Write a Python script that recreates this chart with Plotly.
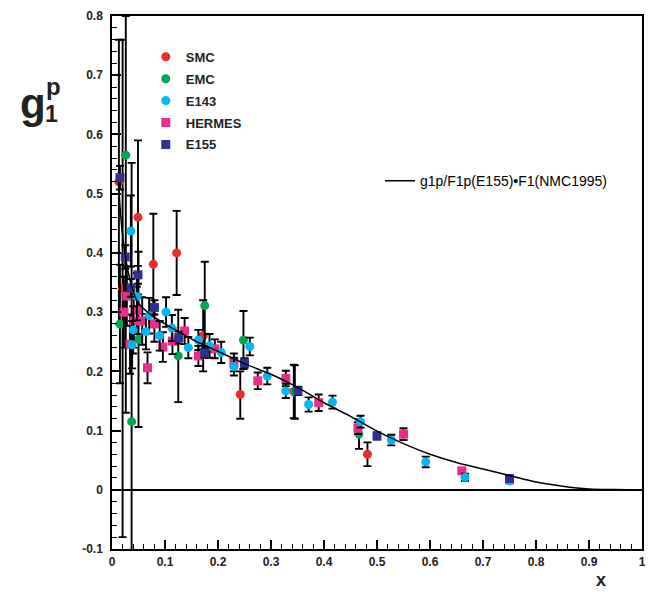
import plotly.graph_objects as go

# ---- g1 of the proton: world data ----
smc_x = [0.013, 0.020, 0.049, 0.078, 0.122, 0.172, 0.242, 0.343, 0.482]
smc_y = [0.520, 0.340, 0.460, 0.381, 0.400, 0.260, 0.161, 0.166, 0.060]
smc_up = [0.240, 0.420, 0.130, 0.085, 0.071, 0.060, 0.039, 0.045, 0.020]
smc_dn = [0.240, 0.420, 0.130, 0.085, 0.071, 0.060, 0.041, 0.045, 0.020]

emc_x = [0.015, 0.026, 0.037, 0.050, 0.125, 0.175, 0.248, 0.345, 0.466]
emc_y = [0.280, 0.565, 0.115, 0.254, 0.226, 0.311, 0.253, 0.165, 0.094]
emc_up = [0.100, 0.235, 0.437, 0.148, 0.078, 0.074, 0.049, 0.045, 0.025]
emc_dn = [0.100, 0.435, 0.437, 0.148, 0.078, 0.074, 0.049, 0.045, 0.025]

e143_x = [0.0356, 0.038, 0.040, 0.047, 0.064, 0.070, 0.090, 0.102, 0.113,
          0.144, 0.163, 0.184, 0.206, 0.230, 0.260, 0.293, 0.328, 0.371,
          0.416, 0.469, 0.527, 0.592, 0.666, 0.750]
e143_y = [0.437, 0.245, 0.270, 0.326, 0.267, 0.294, 0.260, 0.300, 0.273,
          0.240, 0.253, 0.243, 0.232, 0.208, 0.242, 0.192, 0.167, 0.144,
          0.148, 0.115, 0.084, 0.047, 0.021, 0.015]
e143_err = [0.060, 0.040, 0.040, 0.040, 0.030, 0.030, 0.025, 0.025, 0.022,
            0.018, 0.017, 0.020, 0.018, 0.015, 0.015, 0.014, 0.012, 0.012,
            0.011, 0.010, 0.009, 0.009, 0.006, 0.004]

hermes_x = [0.0225, 0.028, 0.034, 0.041, 0.047, 0.057, 0.067, 0.080, 0.096,
            0.114, 0.137, 0.163, 0.194, 0.230, 0.275, 0.328, 0.390, 0.464,
            0.550, 0.660]
hermes_y = [0.300, 0.327, 0.246, 0.285, 0.303, 0.285, 0.206, 0.280, 0.241,
            0.251, 0.268, 0.226, 0.238, 0.215, 0.184, 0.188, 0.147, 0.104,
            0.094, 0.032]
hermes_err = [0.060, 0.050, 0.050, 0.045, 0.040, 0.040, 0.026, 0.030, 0.025,
              0.022, 0.022, 0.017, 0.016, 0.015, 0.014, 0.013, 0.014, 0.010,
              0.010, 0.005]

e155_x = [0.015, 0.025, 0.0356, 0.049, 0.080, 0.126, 0.175, 0.250, 0.351,
          0.500, 0.750]
e155_y = [0.527, 0.393, 0.341, 0.363, 0.308, 0.257, 0.231, 0.214, 0.167,
          0.091, 0.019]
e155_err = [0.020, 0.020, 0.015, 0.015, 0.012, 0.010, 0.008, 0.008, 0.007,
            0.006, 0.004]

# g1p/F1p(E155) * F1(NMC1995)
curve_x = [0.012, 0.015, 0.02, 0.03, 0.04, 0.05, 0.07, 0.10, 0.13, 0.16,
           0.20, 0.25, 0.30, 0.35, 0.40, 0.45, 0.50, 0.55, 0.60, 0.65,
           0.70, 0.75, 0.80, 0.85, 0.90, 0.95, 0.98]
curve_y = [0.520, 0.480, 0.430, 0.370, 0.335, 0.315, 0.298, 0.280, 0.265,
           0.250, 0.234, 0.213, 0.195, 0.173, 0.147, 0.124, 0.099, 0.078,
           0.060, 0.046, 0.035, 0.024, 0.013, 0.006, 0.0015, 0.0003, 0.0]

x_ticks = [0, 0.1, 0.2, 0.3, 0.4, 0.5, 0.6, 0.7, 0.8, 0.9, 1.0]
x_labels = ["0", "0.1", "0.2", "0.3", "0.4", "0.5", "0.6", "0.7", "0.8", "0.9", "1"]
y_ticks = [-0.1, 0, 0.1, 0.2, 0.3, 0.4, 0.5, 0.6, 0.7, 0.8]
y_labels = ["-0.1", "0", "0.1", "0.2", "0.3", "0.4", "0.5", "0.6", "0.7", "0.8"]

FONT = "Liberation Sans, Arial, Helvetica, sans-serif"
INK = "#222222"

fig = go.Figure()


def add_points(name, x, y, up, dn, color, symbol, rank):
    fig.add_trace(go.Scatter(
        x=x, y=y, mode="markers", name=name,
        marker=dict(color=color, symbol=symbol, size=9, line=dict(width=0)),
        error_y=dict(type="data", symmetric=False, array=up, arrayminus=dn,
                     color="black", thickness=1.9, width=4),
        cliponaxis=False, legendrank=rank, legendgroup=name, legend="legend",
    ))


add_points("SMC", smc_x, smc_y, smc_up, smc_dn, "#EE2B2C", "circle", 1)
add_points("EMC", emc_x, emc_y, emc_up, emc_dn, "#00A650", "circle", 2)
add_points("HERMES", hermes_x, hermes_y, hermes_err, hermes_err, "#EC2C8C", "square", 4)
add_points("E143", e143_x, e143_y, e143_err, e143_err, "#00B7F1", "circle", 3)
add_points("E155", e155_x, e155_y, e155_err, e155_err, "#2E3192", "square", 5)

fig.add_trace(go.Scatter(
    x=curve_x, y=curve_y, mode="lines", name="g1p/F1p(E155)\u2022F1(NMC1995)",
    line=dict(color="black", width=1.5, shape="spline"),
    legend="legend2",
))

axis_common = dict(
    ticks="inside", ticklen=9, tickwidth=1.5, tickcolor="black",
    showline=True, linecolor="black", linewidth=1.5, mirror=True,
    showgrid=False,
    tickfont=dict(family=FONT, size=12, color=INK, weight="bold"),
    minor=dict(dtick=0.02, tick0=0, ticks="inside", ticklen=5, tickwidth=1, tickcolor="black"),
)

fig.update_layout(
    width=649, height=592,
    margin=dict(l=112, r=3, t=16, b=43),
    paper_bgcolor="white", plot_bgcolor="white",
    xaxis=dict(range=[0, 1], tickvals=x_ticks, ticktext=x_labels,
               zeroline=False, ticklabelstandoff=1, **axis_common),
    yaxis=dict(range=[-0.1, 0.8], tickvals=y_ticks, ticktext=y_labels,
               zeroline=True, zerolinecolor="black", zerolinewidth=1.5,
               ticklabelstandoff=5, **axis_common),
    showlegend=True,
    legend=dict(x=0.0637, y=0.9515, xanchor="left", yanchor="top",
                bgcolor="rgba(0,0,0,0)", borderwidth=0, tracegroupgap=2,
                font=dict(family=FONT, size=13, color=INK, weight="bold")),
    legend2=dict(x=0.5056, y=0.72, xanchor="left", yanchor="top",
                 bgcolor="rgba(0,0,0,0)", borderwidth=0,
                 font=dict(family=FONT, size=14, color="black")),
)


def px_x(px):
    return (px - 112) / 534


def px_y(py):
    return (549 - py) / 533


# axis titles: g with stacked sub/superscript, and x
title_parts = [("g", 32, 103, 42), ("p", 53, 86, 24), ("1", 51, 114, 23)]
for txt, cx, cy, size in title_parts:
    fig.add_annotation(text="<b>%s</b>" % txt, xref="paper", yref="paper",
                       x=px_x(cx), y=px_y(cy), xanchor="center", yanchor="middle",
                       showarrow=False, font=dict(family=FONT, size=size, color=INK))
fig.add_annotation(text="<b>x</b>", xref="paper", yref="paper",
                   x=px_x(605), y=px_y(580), xanchor="center", yanchor="middle",
                   showarrow=False, font=dict(family=FONT, size=18, color=INK))

fig.write_html("out.html")
